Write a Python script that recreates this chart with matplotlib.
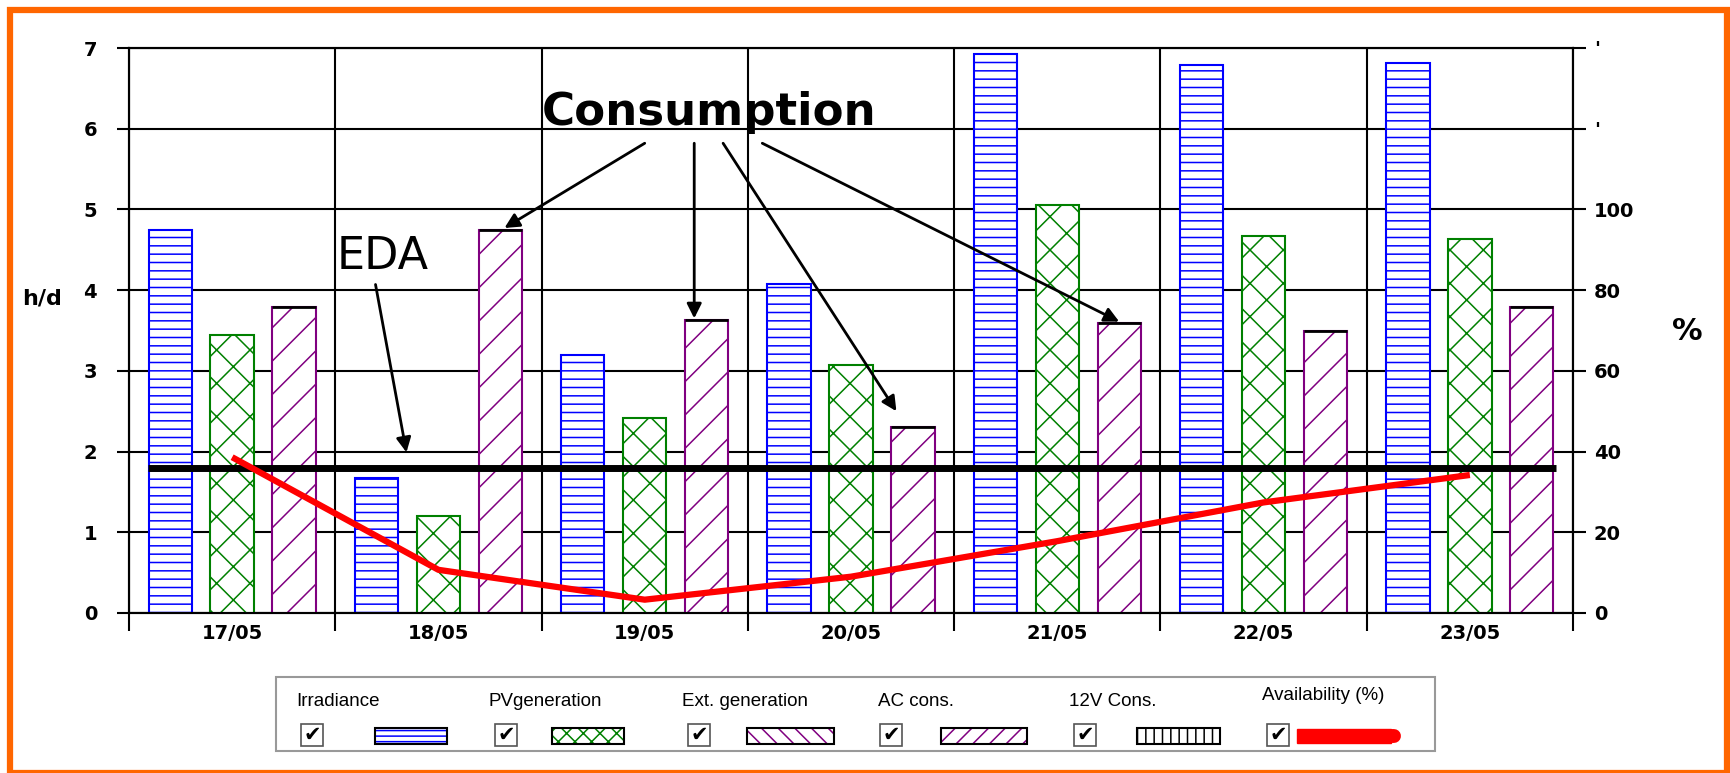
import matplotlib.pyplot as plt
from matplotlib.patches import Rectangle
import numpy as np

# data (h/d on the left axis, % on the right one)
days = ['17/05', '18/05', '19/05', '20/05', '21/05', '22/05', '23/05']
irradiance = [4.74, 1.67, 3.20, 4.08, 6.92, 6.79, 6.82]
pv_generation = [3.45, 1.20, 2.42, 3.07, 5.05, 4.67, 4.63]
ac_cons = [3.79, 4.75, 3.63, 2.30, 3.59, 3.49, 3.79]
availability = [38.6, 10.7, 3.3, 9.0, 17.8, 27.4, 34.2]
eda_level = 1.8

left_ticks = ['0', '1', '2', '3', '4', '5', '6', '7']
right_ticks = ['0', '20', '40', '60', '80', '100', "'", "'"]
legend_labels = ['Irradiance', 'PVgeneration', 'Ext. generation', 'AC cons.', '12V Cons.', 'Availability (%)']

plt.rcParams['hatch.linewidth'] = 1.1

W, H = 1731, 773
fig = plt.figure(figsize=(W / 100, H / 100), dpi=100)

# main axes placed in pixel terms
ax = fig.add_axes([129 / W, 1 - 613 / H, (1573 - 129) / W, (613 - 48) / H])
x = np.arange(len(days))
bw = 0.21
ax.bar(x - 0.3, irradiance, bw, facecolor='white', edgecolor='blue', hatch='--', lw=1.5, zorder=3)
ax.bar(x, pv_generation, bw, facecolor='white', edgecolor='green', hatch='x', lw=1.5, zorder=3)
ax.bar(x + 0.3, ac_cons, bw, facecolor='white', edgecolor='purple', hatch='/', lw=1.5, zorder=3)
# dark top edge on the consumption bars
ax.hlines(ac_cons, x + 0.3 - bw / 2, x + 0.3 + bw / 2, color='black', lw=2, zorder=4)

# EDA level
ax.hlines(eda_level, -0.41, 6.42, color='black', lw=5, zorder=6)

ax.set_xlim(-0.5, 6.5)
ax.set_ylim(0, 7)
ax.set_yticks(range(8))
ax.set_yticklabels(left_ticks, fontsize=14, fontweight='bold')
ax.set_xticks(np.arange(-0.5, 7, 1))
ax.set_xticklabels([])
ax.set_xticks(x, minor=True)
ax.set_xticklabels(days, minor=True, fontsize=14, fontweight='bold')
ax.tick_params(axis='x', which='major', length=13, width=1.5, direction='out')
ax.tick_params(axis='x', which='minor', length=0, pad=8)
ax.tick_params(axis='y', length=9, width=1.5, pad=14)
ax.grid(True, which='major', color='black', lw=1.5)
ax.set_axisbelow(True)
for s in ax.spines.values():
    s.set_color('black')
    s.set_linewidth(1.5)

# arrows and notes
ax.text(2.31, 6.2, 'Consumption', fontsize=32.5, fontweight='bold', ha='center', va='center', zorder=8)
ax.text(0.73, 4.42, 'EDA', fontsize=32, ha='center', va='center', zorder=8)
arrow = dict(arrowstyle='-|>', color='black', lw=2, mutation_scale=22, shrinkA=0, shrinkB=0)
tails = [2.0, 2.24, 2.38, 2.57]
head_dx = [0.02, -0.06, -0.08, 0.0]
head_dy = [0.02, 0.02, 0.2, 0.02]
for n, i in enumerate([1, 2, 3, 4]):
    ax.annotate('', xy=(i + 0.3 + head_dx[n], ac_cons[i] + head_dy[n]),
                xytext=(tails[n], 5.82), arrowprops=arrow, zorder=8)
ax.annotate('', xy=(0.845, 1.99), xytext=(0.695, 4.07), arrowprops=arrow, zorder=8)

# availability on the right axis
ax2 = ax.twinx()
ax2.plot(x, availability, color='red', lw=4.5, solid_capstyle='butt', zorder=5)
ax2.set_ylim(0, 140)
ax2.set_yticks(range(0, 141, 20))
ax2.set_yticklabels(right_ticks, fontsize=14, fontweight='bold')
ax2.tick_params(axis='y', length=9, width=1.5, pad=6)
for s in ax2.spines.values():
    s.set_linewidth(1.5)

# overlay in pixel coordinates: frame, axis titles, legend
ov = fig.add_axes([0, 0, 1, 1])
ov.set_xlim(0, W)
ov.set_ylim(H, 0)
ov.axis('off')
ov.add_patch(Rectangle((10.5, 9.5), W - 14, H - 10, fill=False, edgecolor='#ff6600', lw=4.5))
ov.text(42, 298, 'h/d', fontsize=16, fontweight='bold', ha='center', va='center')
ov.text(1687, 331, '%', fontsize=22, fontweight='bold', ha='center', va='center')

ov.add_patch(Rectangle((276, 677), 1159, 74, fill=False, edgecolor='#999999', lw=1.5))
label_x = [296, 489, 682, 878, 1069, 1262]
box_x = [312, 506, 699, 891, 1085, 1278]
sw_x = [(375, 447), (552, 624), (747, 834), (941, 1027), (1137, 1220), (1297, 1397)]
sw_style = [('blue', '---'), ('green', 'xx'), ('purple', '\\\\'), ('purple', '//'), ('black', '||')]
for k, lab in enumerate(legend_labels):
    ov.text(label_x[k], 701 if k < 5 else 696, lab, fontsize=13.5, family='Liberation Sans',
            ha='left', va='center')
    ov.add_patch(Rectangle((box_x[k] - 11, 724), 22, 22, facecolor='white', edgecolor='#555555', lw=1.2))
    ov.text(box_x[k], 735, '✔', fontsize=15, fontweight='bold', ha='center', va='center')
    x0, x1 = sw_x[k]
    if k < 5:
        col, hat = sw_style[k]
        ov.add_patch(Rectangle((x0, 728), x1 - x0, 16, facecolor='white', edgecolor=col,
                               hatch=hat, lw=0))
        ov.add_patch(Rectangle((x0, 728), x1 - x0, 16, fill=False, edgecolor='black', lw=1.5))
    else:
        ov.add_patch(Rectangle((x0, 729), x1 - x0 - 6, 14, facecolor='red', edgecolor='red', lw=1))
        ov.plot([x1 - 6, x1 - 3], [736, 736], color='red', lw=10, solid_capstyle='round')

fig.savefig('out.png', dpi=100)
